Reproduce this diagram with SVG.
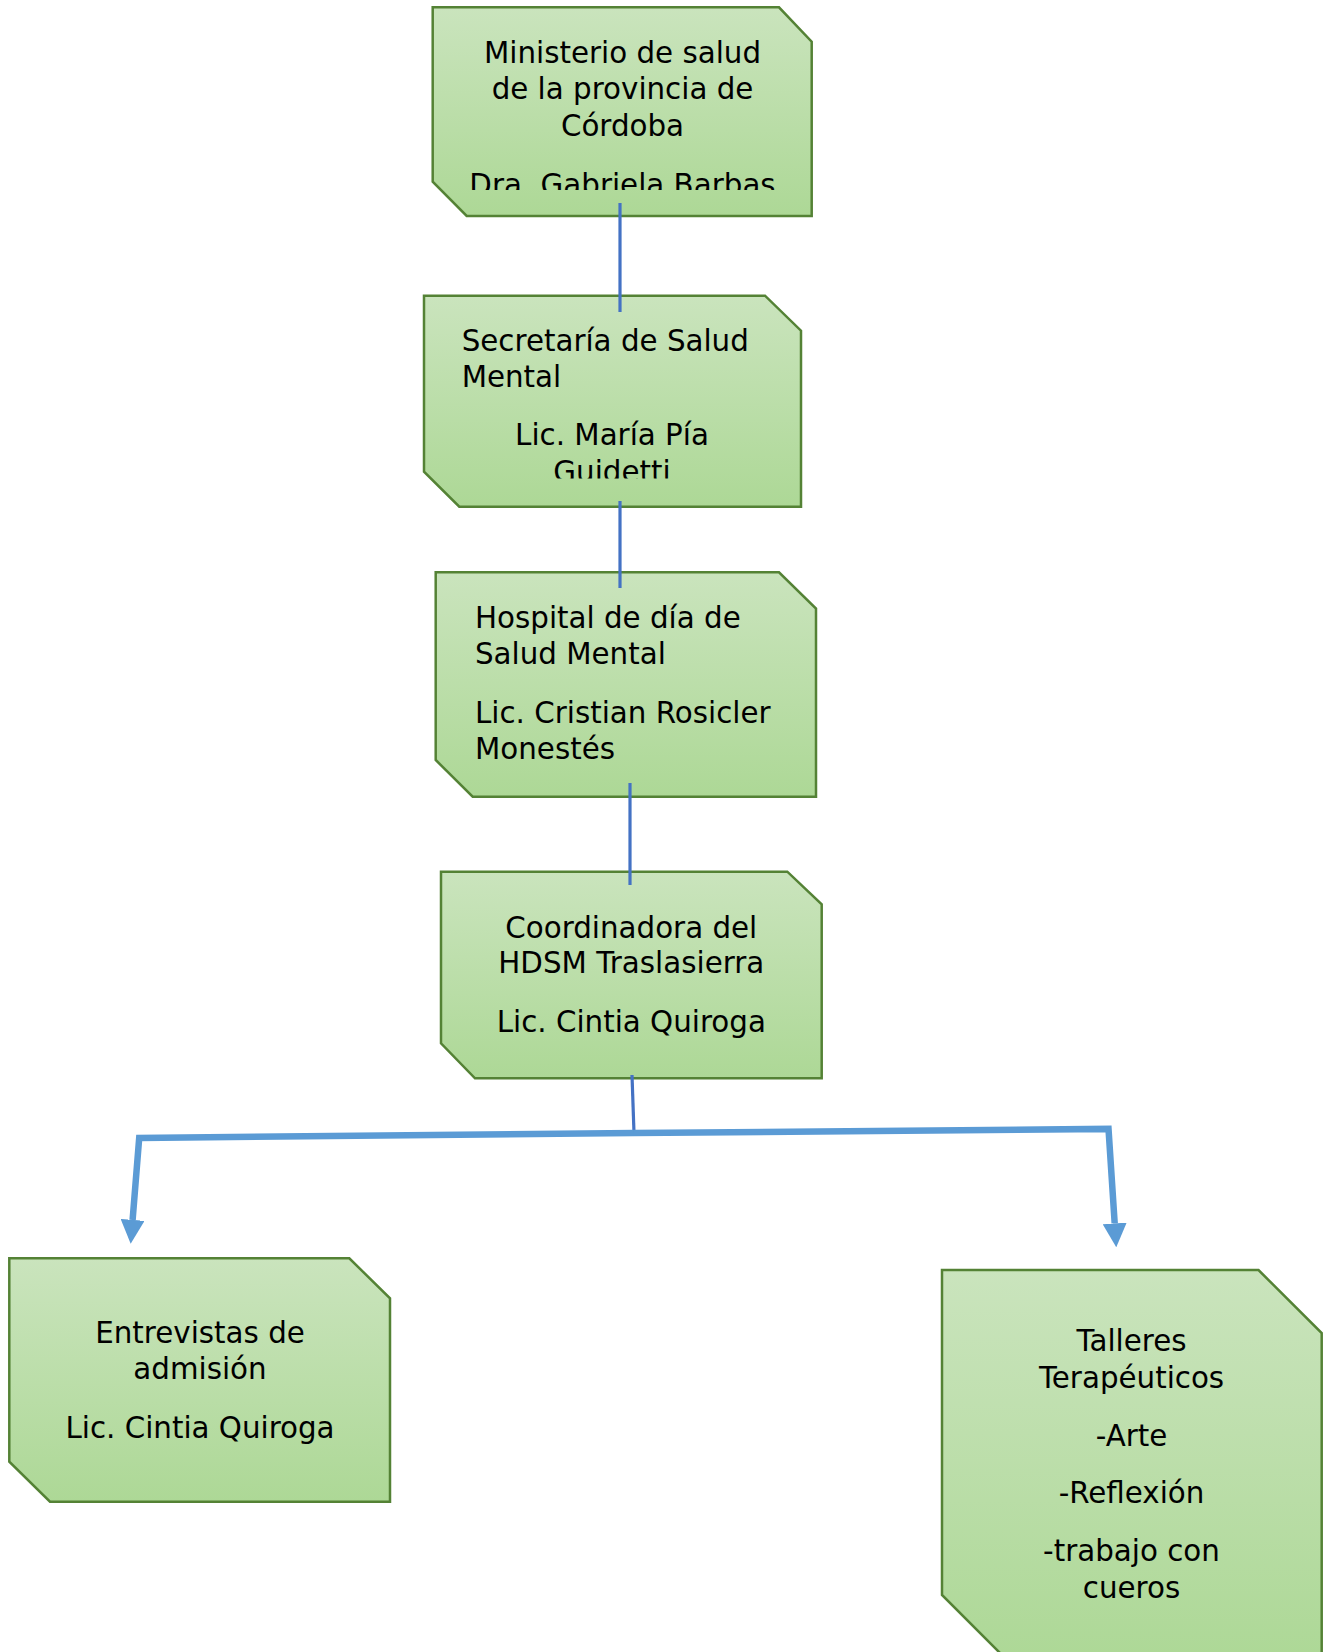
<svg xmlns="http://www.w3.org/2000/svg" width="1331" height="1652" viewBox="0 0 1331 1652">
  <defs>
    <linearGradient id="g" x1="0" y1="0" x2="0" y2="1">
      <stop offset="0" stop-color="#CAE4BD"/>
      <stop offset="1" stop-color="#ADD896"/>
    </linearGradient>
    <marker id="arr" markerUnits="userSpaceOnUse" markerWidth="24" markerHeight="24" viewBox="0 0 24 24" refX="0" refY="12" orient="auto">
      <path d="M0,0 L24,12 L0,24 Z" fill="#5B9BD5"/>
    </marker>
    <clipPath id="c1"><rect x="430" y="0" width="385" height="190"/></clipPath>
    <clipPath id="c2"><rect x="420" y="290" width="385" height="188.5"/></clipPath>
  </defs>
  <style>
    .node { fill: url(#g); stroke: #548235; stroke-width: 2.5; }
    text { font-family: "DejaVu Sans", Verdana, sans-serif; font-size: 29.33px; fill: #000; }
    .c { text-anchor: middle; }
    .thin { stroke: #4472C4; stroke-width: 3.2; fill: none; }
    .thick { stroke: #5B9BD5; stroke-width: 6.5; fill: none; stroke-linejoin: miter; }
  </style>

  <g id="node-ministerio">
    <path class="node" d="M432.7,7.3 H779 L811.7,41.7 V216 H466.7 L432.7,181.7 Z"/>
    <g clip-path="url(#c1)">
      <text class="c" x="622.5" y="62.7">Ministerio de salud</text>
      <text class="c" x="622.5" y="99.2">de la provincia de</text>
      <text class="c" x="622.5" y="135.7">Córdoba</text>
      <text class="c" x="622.5" y="194.7">Dra. Gabriela Barbas</text>
    </g>
  </g>

  <g id="node-secretaria">
    <path class="node" d="M424,295.7 H765 L801,330.7 V506.7 H459.3 L424,471.7 Z"/>
    <g clip-path="url(#c2)">
      <text x="461.7" y="350.7">Secretaría de Salud</text>
      <text x="461.7" y="386.7">Mental</text>
      <text class="c" x="612" y="445">Lic. María Pía</text>
      <text class="c" x="612" y="481.5">Guidetti</text>
    </g>
  </g>

  <g id="node-hospital">
    <path class="node" d="M435.7,572.3 H779 L816,608.5 V796.7 H472.7 L435.7,760 Z"/>
    <text x="475" y="628.3">Hospital de día de</text>
    <text x="475" y="664">Salud Mental</text>
    <text x="475" y="722.7">Lic. Cristian Rosicler</text>
    <text x="475" y="759">Monestés</text>
  </g>

  <g id="node-coordinadora">
    <path class="node" d="M441,871.7 H787.3 L821.7,904.3 V1078.3 H475 L441,1043.3 Z"/>
    <text class="c" x="631.3" y="937.7">Coordinadora del</text>
    <text class="c" x="631.3" y="973.3">HDSM Traslasierra</text>
    <text class="c" x="631.3" y="1031.7">Lic. Cintia Quiroga</text>
  </g>

  <g id="node-entrevistas">
    <path class="node" d="M9.3,1258.3 H349.3 L390,1298.3 V1501.7 H50 L9.3,1461.7 Z"/>
    <text class="c" x="200" y="1342.7">Entrevistas de</text>
    <text class="c" x="200" y="1379.3">admisión</text>
    <text class="c" x="200" y="1438.3">Lic. Cintia Quiroga</text>
  </g>

  <g id="node-talleres">
    <path class="node" d="M942,1270 H1258.5 L1321.7,1333 V1662 H1009 L942,1595 Z"/>
    <text class="c" x="1131.5" y="1350.7">Talleres</text>
    <text class="c" x="1131.5" y="1387.7">Terapéuticos</text>
    <text class="c" x="1131.5" y="1445.8">-Arte</text>
    <text class="c" x="1131.5" y="1503.2">-Reflexión</text>
    <text class="c" x="1131.5" y="1561.3">-trabajo con</text>
    <text class="c" x="1131.5" y="1597.8">cueros</text>
  </g>

  <g id="connectors">
    <line class="thin" x1="620" y1="203" x2="620" y2="312"/>
    <line class="thin" x1="620" y1="501" x2="620" y2="588"/>
    <line class="thin" x1="630" y1="783" x2="630" y2="885"/>
    <line class="thin" x1="632" y1="1075" x2="634" y2="1133"/>
    <path class="thick" d="M634,1133 L139.2,1138 L132.6,1219.9" marker-end="url(#arr)"/>
    <path class="thick" d="M634,1133 L1108.5,1128.9 L1114.7,1223.4" marker-end="url(#arr)"/>
  </g>
</svg>
